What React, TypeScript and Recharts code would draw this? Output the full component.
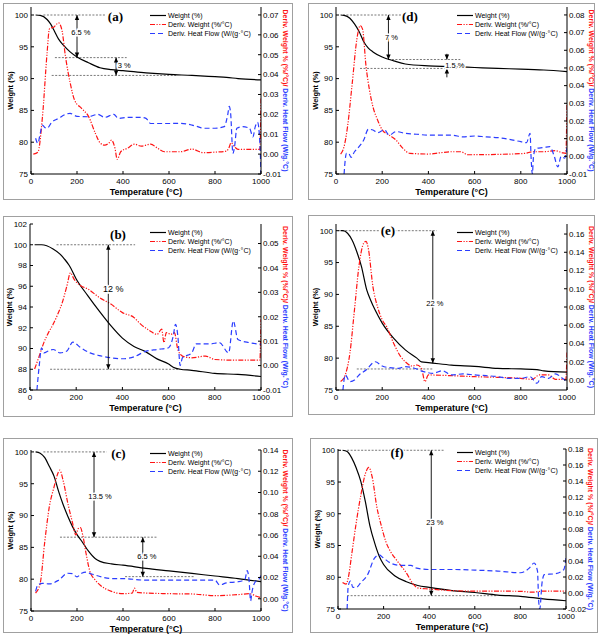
import React from "react";
import {
  LineChart,
  Line,
  XAxis,
  YAxis,
  Legend,
  ReferenceLine,
  ReferenceDot,
} from "recharts";

// values: temperature (°C) / weight (%) / deriv weight (%/°C) / heat flow (W/g°C)
const tempTicks = [0, 200, 400, 600, 800, 1000];

// (a)
const aWtT = [20, 40, 70, 85, 100, 120, 140, 170, 200, 250, 300, 350, 400, 500, 600, 700, 800, 850, 900, 1000];
const aWt = [100, 99.95, 99.3, 98.6, 97.6, 96.2, 95.3, 94.2, 93.4, 92.5, 91.7, 91.4, 91.25, 90.9, 90.65, 90.5, 90.3, 90.2, 90.0, 89.8];
const aDtgT = [10, 30, 50, 70, 80, 100, 120, 135, 150, 170, 190, 220, 250, 280, 300, 320, 340, 350, 365, 375, 390, 420, 450, 480, 520, 550, 580, 650, 700, 750, 800, 850, 860, 870, 885, 900, 995, 1000];
const aDtg = [0.0, 0.001, 0.019, 0.051, 0.063, 0.064, 0.066, 0.062, 0.049, 0.036, 0.027, 0.023, 0.019, 0.0104, 0.0057, 0.0045, 0.0057, 0.007, 0.003, -0.0027, 0.0012, 0.003, 0.005, 0.004, 0.005, 0.003, 0.0012, 0.0012, 0.0025, 0.0007, 0.001, 0.0015, 0.003, 0.0057, 0.0037, 0.0024, 0.0024, 0.028];
const aHfT = [20, 30, 40, 50, 60, 70, 90, 120, 150, 170, 200, 250, 290, 320, 360, 380, 420, 480, 500, 520, 600, 650, 700, 720, 750, 800, 840, 855, 862, 868, 878, 885, 895, 920, 950, 965, 975, 985, 995, 1000];
const aHf = [0.008, 0.0054, 0.0104, 0.0146, 0.0134, 0.013, 0.016, 0.018, 0.02, 0.0205, 0.019, 0.0188, 0.02, 0.0185, 0.02, 0.018, 0.0185, 0.0185, 0.018, 0.0154, 0.0154, 0.0155, 0.0146, 0.014, 0.013, 0.013, 0.0138, 0.0196, 0.024, 0.0205, 0.0003, 0.0037, 0.013, 0.0138, 0.013, 0.0087, 0.0138, 0.016, 0.006, -0.01];

// (d)
const dWtT = [20, 35, 60, 80, 100, 120, 140, 160, 200, 250, 300, 400, 500, 600, 700, 800, 900, 1000];
const dWt = [100, 99.95, 99.5, 98.6, 97.4, 95.8, 94.8, 94.2, 93.4, 92.8, 92.3, 92.0, 91.9, 91.75, 91.6, 91.5, 91.35, 91.1];
const dDtgT = [20, 35, 50, 70, 90, 105, 115, 130, 145, 160, 180, 200, 230, 260, 290, 320, 400, 450, 500, 540, 570, 700, 820, 850, 900, 950, 980, 995, 1000];
const dDtg = [0.0013, 0.0055, 0.0168, 0.041, 0.066, 0.074, 0.072, 0.051, 0.0375, 0.028, 0.0206, 0.015, 0.012, 0.0092, 0.0045, 0.0017, 0.0013, 0.002, 0.0026, 0.0026, 0.0009, 0.0011, 0.0017, 0.0026, 0.0026, 0.0032, 0.002, 0.0017, 0.03];
const dHfT = [35, 40, 45, 55, 65, 80, 100, 120, 140, 160, 180, 210, 230, 260, 300, 350, 400, 500, 550, 600, 650, 700, 750, 800, 825, 840, 845, 850, 855, 865, 900, 925, 945, 960, 975, 990, 1000];
const dHf = [-0.01, -0.002, 0.0017, 0.0017, -0.0006, 0.0026, 0.0055, 0.0092, 0.0153, 0.0149, 0.0134, 0.015, 0.012, 0.014, 0.013, 0.0125, 0.012, 0.012, 0.011, 0.0115, 0.011, 0.0106, 0.0096, 0.0083, 0.0077, 0.013, -0.002, -0.01, 0.0, 0.0045, 0.005, 0.0055, 0.0, -0.006, 0.0, -0.001, 0.005];

// (b)
const bWtT = [20, 50, 100, 130, 150, 170, 200, 250, 300, 350, 400, 450, 500, 550, 600, 620, 650, 700, 800, 900, 1000];
const bWt = [100, 100, 99.6, 99.1, 98.6, 98.0, 96.7, 95.1, 93.6, 92.2, 91.0, 90.2, 89.7, 89.0, 88.5, 88.2, 88.0, 87.9, 87.6, 87.5, 87.3];
const bDtgT = [20, 40, 60, 80, 100, 120, 140, 160, 175, 190, 220, 250, 300, 350, 400, 450, 480, 520, 550, 570, 580, 590, 610, 625, 640, 660, 700, 760, 800, 900, 995, 1000];
const bDtg = [-0.0014, 0.0039, 0.0094, 0.0135, 0.0169, 0.021, 0.0259, 0.0327, 0.038, 0.0355, 0.0327, 0.0314, 0.0279, 0.0252, 0.0217, 0.0197, 0.0169, 0.0142, 0.0128, 0.0149, 0.0094, 0.0135, 0.0128, 0.0135, 0.0066, 0.0039, 0.0032, 0.0039, 0.0025, 0.0022, 0.0022, 0.019];
const bHfT = [30, 40, 50, 60, 80, 100, 130, 160, 185, 220, 260, 300, 350, 400, 450, 500, 550, 600, 620, 630, 640, 650, 660, 700, 720, 780, 820, 860, 880, 900, 950, 1000];
const bHf = [-0.01, 0.0, 0.0073, 0.0052, 0.006, 0.0066, 0.0052, 0.006, 0.0096, 0.0073, 0.0052, 0.0041, 0.0032, 0.0028, 0.0036, 0.0058, 0.0066, 0.0073, 0.0121, 0.0169, 0.0121, 0.0, 0.0032, 0.0052, 0.0089, 0.0089, 0.0094, 0.0052, 0.0183, 0.0107, 0.0094, 0.0087];

// (e)
const eWtT = [20, 30, 50, 70, 90, 110, 133, 150, 170, 200, 250, 300, 350, 370, 400, 500, 600, 700, 800, 870, 900, 1000];
const eWt = [100, 100, 99.6, 98.5, 96.7, 94.4, 90.7, 89.1, 87.5, 85.5, 83.1, 81.3, 80.0, 79.4, 79.3, 78.9, 78.7, 78.4, 78.3, 78.2, 78.0, 77.8];
const eDtgT = [20, 40, 60, 80, 100, 120, 130, 140, 160, 180, 200, 220, 250, 280, 300, 330, 350, 370, 385, 400, 500, 600, 700, 800, 850, 880, 920, 950, 995, 1000];
const eDtg = [-0.0018, 0.0055, 0.029, 0.077, 0.126, 0.15, 0.152, 0.144, 0.102, 0.08, 0.066, 0.058, 0.04, 0.0256, 0.02, 0.0153, 0.0164, 0.0128, -0.0018, 0.0055, 0.0047, 0.0036, 0.0029, 0.0018, 0.0007, 0.0055, 0.0055, 0.0007, 0.0007, 0.03];
const eHfT = [30, 40, 60, 80, 100, 130, 170, 200, 230, 270, 300, 340, 380, 420, 460, 500, 550, 600, 650, 700, 750, 800, 840, 870, 890, 920, 950, 980, 1000];
const eHf = [-0.011, 0.0055, -0.0018, 0.0, 0.0055, 0.011, 0.02, 0.0153, 0.0135, 0.0128, 0.0146, 0.0128, 0.0091, 0.0073, 0.0102, 0.0055, 0.0066, 0.0055, 0.0047, 0.0036, 0.0018, 0.0018, 0.0036, -0.0036, 0.0036, 0.0018, 0.0066, 0.0018, -0.002];

// (c)
const cWtT = [20, 40, 60, 80, 100, 120, 140, 160, 180, 200, 220, 250, 280, 300, 350, 400, 500, 600, 700, 800, 900, 1000];
const cWt = [100, 99.8, 99.1, 97.7, 96.2, 93.8, 91.7, 89.9, 88.3, 87.0, 86.0, 84.4, 83.2, 82.8, 82.4, 82.2, 81.7, 81.3, 80.9, 80.5, 80.1, 79.6];
const cDtgT = [20, 40, 60, 80, 100, 115, 125, 140, 160, 180, 195, 205, 215, 225, 240, 255, 280, 300, 350, 400, 440, 450, 460, 500, 600, 700, 800, 900, 950, 980, 1000];
const cDtg = [0.0054, 0.0145, 0.054, 0.087, 0.105, 0.117, 0.121, 0.111, 0.09, 0.072, 0.06, 0.066, 0.067, 0.06, 0.042, 0.0266, 0.0175, 0.013, 0.007, 0.0048, 0.0054, 0.01, 0.006, 0.0054, 0.0048, 0.0045, 0.003, 0.0039, 0.0048, 0.0024, 0.001];
const cHfT = [20, 30, 50, 80, 120, 160, 180, 200, 220, 240, 260, 300, 350, 400, 500, 600, 700, 800, 820, 850, 900, 930, 940, 948, 955, 960, 975, 990, 1000];
const cHf = [0.007, 0.013, 0.0145, 0.014, 0.0175, 0.024, 0.0236, 0.0206, 0.024, 0.025, 0.0236, 0.021, 0.019, 0.019, 0.0175, 0.0175, 0.0175, 0.0175, 0.013, 0.015, 0.016, 0.018, 0.0266, 0.0175, -0.002, 0.0054, 0.016, 0.018, 0.022];

// (f)
const fWtT = [20, 40, 60, 80, 100, 120, 140, 160, 180, 200, 250, 300, 350, 400, 500, 600, 700, 800, 900, 1000];
const fWt = [100, 99.8, 98.8, 97.2, 95.1, 91.9, 88.1, 85.5, 83.4, 82.0, 80.2, 79.3, 78.7, 78.4, 77.9, 77.6, 77.2, 77.0, 76.6, 76.3];
const fDtgT = [20, 35, 45, 60, 80, 100, 120, 135, 150, 170, 190, 210, 230, 260, 300, 330, 350, 400, 500, 600, 700, 800, 850, 900, 1000];
const fDtg = [0.013, 0.011, 0.019, 0.048, 0.088, 0.122, 0.149, 0.157, 0.145, 0.108, 0.084, 0.064, 0.052, 0.04, 0.025, 0.011, 0.0063, 0.005, 0.003, 0.0023, 0.0023, 0.0021, 0.001, 0.0023, 0.0023];
const fHfT = [40, 45, 55, 65, 80, 100, 130, 160, 180, 200, 230, 270, 320, 340, 400, 500, 600, 700, 800, 840, 860, 875, 880, 885, 895, 905, 950, 990, 1000];
const fHf = [-0.02, 0.009, 0.015, 0.007, 0.007, 0.013, 0.023, 0.0436, 0.0476, 0.0436, 0.0375, 0.0346, 0.0346, 0.0314, 0.0294, 0.0294, 0.0286, 0.0274, 0.0253, 0.0314, 0.0375, 0.0274, -0.009, -0.02, 0.013, 0.023, 0.024, 0.029, 0.0436];

// annotations: dotted guides [from T, to T, weight], arrows [T, from wt, to wt, both?], notes [T, wt, text]
const aGuides = [[54, 326, 100], [104, 416, 93.3], [90, 633, 90.5]];
const aArrows = [[200, 100, 93.3, 1], [370, 93.3, 90.5, 1]];
const aNotes: [number, number, string][] = [[217, 97.2, "6.5 %"], [405, 92.1, "3 %"]];

const dGuides = [[30, 285, 100], [227, 538, 93.0], [104, 538, 91.6]];
const dArrows = [[227, 100, 93.0, 1], [480, 93.9, 93.0, 0], [480, 90.2, 91.6, 0]];
const dNotes: [number, number, string][] = [[240, 96.4, "7 %"], [514, 92.1, "1.5 %"]];

const bGuides = [[115, 455, 100], [87, 650, 88.0]];
const bArrows = [[339, 100, 88.0, 1]];
const bNotes: [number, number, string][] = [[360, 95.7, "12 %"]];

const eGuides = [[10, 436, 100], [90, 422, 78.3]];
const eArrows = [[419, 100, 79.2, 1]];
const eNotes: [number, number, string][] = [[428, 88.5, "22 %"]];

const cGuides = [[54, 329, 100], [126, 546, 86.6], [409, 713, 80.4]];
const cArrows = [[274, 100, 86.6, 1], [486, 86.6, 80.4, 1]];
const cNotes: [number, number, string][] = [[300, 93.0, "13.5 %"], [504, 83.5, "6.5 %"]];

const fGuides = [[40, 463, 100], [40, 697, 77.1]];
const fArrows = [[409, 100, 77.1, 1]];
const fNotes: [number, number, string][] = [[425, 88.7, "23 %"]];

const RED = "#ff1414";
const BLUE = "#2b3dff";
const FONT = "'Liberation Sans', Arial, sans-serif";
const SERIF = "'Liberation Serif', 'Times New Roman', serif";

const zip = (ts: number[], vs: number[]) => ts.map((t, i) => ({ t, v: vs[i] }));

const SERIES = [
  { name: "Weight (%)", color: "#000", dash: undefined as string | undefined },
  { name: "Deriv. Weight (%/°C)", color: RED, dash: "5 1.5 1.2 1.5 1.2 1.5" },
  { name: "Deriv. Heat Flow (W/(g·°C)", color: BLUE, dash: "5 3" },
];

const LegendBox = () => (
  <div style={{ fontFamily: FONT, fontSize: 7, color: "#000" }}>
    {SERIES.map((s) => (
      <div key={s.name} style={{ display: "flex", alignItems: "center", height: 9, whiteSpace: "nowrap" }}>
        <svg width={17} height={9}>
          <line x1={0} x2={16} y1={4.5} y2={4.5} stroke={s.color} strokeWidth={1.2} strokeDasharray={s.dash} />
        </svg>
        <span style={{ marginLeft: 1 }}>{s.name}</span>
      </div>
    ))}
  </div>
);

const LeftTitle = (p: any) => {
  const vb = p.viewBox;
  const x = vb.x + vb.width - 21;
  const y = vb.y + vb.height / 2;
  return (
    <text transform={`translate(${x},${y}) rotate(-90)`} textAnchor="middle" dominantBaseline="central" fontSize={7.5} fontWeight="bold" fontFamily={FONT} fill="#000">
      Weight (%)
    </text>
  );
};

const RightTitle = (p: any) => {
  const vb = p.viewBox;
  const x = vb.x + 25;
  const y = vb.y + vb.height / 2;
  return (
    <text transform={`translate(${x},${y}) rotate(90)`} textAnchor="middle" dominantBaseline="central" fontSize={7} fontWeight="bold" fontFamily={FONT}>
      <tspan fill={RED}>Deriv. Weight % (%/°C)/</tspan>
      <tspan fill={BLUE}> Deriv. Heat Flow (W/g.°C)</tspan>
    </text>
  );
};

const BottomTitle = (p: any) => {
  const vb = p.viewBox;
  return (
    <text x={vb.x + vb.width / 2} y={vb.y + 18} textAnchor="middle" dominantBaseline="central" fontSize={9} fontWeight="bold" fontFamily={FONT} fill="#000">
      Temperature (°C)
    </text>
  );
};

const headShape = (up: boolean) => (p: any) => (
  <path d={up ? `M${p.cx},${p.cy} l-2.2,5 l4.4,0 z` : `M${p.cx},${p.cy} l-2.2,-5 l4.4,0 z`} fill="#000" />
);

const noteShape = (text: string, size: number, serif = false) => (p: any) => (
  <text
    x={p.cx}
    y={p.cy}
    textAnchor="middle"
    dominantBaseline="central"
    fontSize={size}
    fontFamily={serif ? SERIF : FONT}
    fontWeight={serif ? "bold" : "normal"}
    fill="#000"
    stroke="#fff"
    strokeWidth={3}
    paintOrder="stroke"
  >
    {text}
  </text>
);

const tickStyle = { fontSize: 8, fill: "#000", fontFamily: FONT };
const axisStyle = { stroke: "#000", strokeWidth: 1 };

function Panel(props: any) {
  const { pos, size, top, bottom, yl, yr, box, wtDomain, wtTicks, dDomain, dTicks, weight, dtg, heat, guides, arrows, notes, letter, noteSize, legendPos } = props;
  return (
    <>
      <div style={{ position: "absolute", left: box[0], top: box[1], width: box[2] - box[0], height: box[3] - box[1], border: "1px solid #a0a0a0", boxSizing: "border-box" }} />
      <div style={{ position: "absolute", left: pos[0], top: pos[1] }}>
        <LineChart width={size[0]} height={size[1]} margin={{ top, right: 0, bottom, left: 0 }} style={{ fontFamily: FONT }}>
          <XAxis dataKey="t" type="number" domain={[0, 1000]} ticks={tempTicks} interval={0} allowDataOverflow height={26} tickSize={-3} tickMargin={7} tick={tickStyle} axisLine={axisStyle} tickLine={axisStyle} label={BottomTitle} />
          <XAxis xAxisId="top" orientation="top" dataKey="t" type="number" domain={[0, 1000]} allowDataOverflow height={0} tick={false} tickLine={false} axisLine={axisStyle} />
          <YAxis yAxisId="wt" domain={wtDomain} ticks={wtTicks} interval={0} allowDataOverflow width={yl} tickSize={-3} tickMargin={6} tick={tickStyle} axisLine={axisStyle} tickLine={axisStyle} label={LeftTitle} />
          <YAxis yAxisId="d" orientation="right" domain={dDomain} ticks={dTicks} interval={0} allowDataOverflow width={yr} tickSize={-3} tickMargin={5} tick={tickStyle} axisLine={axisStyle} tickLine={axisStyle} tickFormatter={(v: number) => v.toFixed(2)} label={RightTitle} />
          <Legend layout="vertical" align="center" verticalAlign="middle" wrapperStyle={{ left: legendPos[0], top: legendPos[1] }} content={LegendBox} />
          {guides.map((g: number[], i: number) => (
            <ReferenceLine key={`g${i}`} yAxisId="wt" segment={[{ x: g[0], y: g[2] }, { x: g[1], y: g[2] }]} stroke="#555" strokeWidth={0.8} strokeDasharray="2 1.5" />
          ))}
          <Line yAxisId="wt" data={weight} dataKey="v" name={SERIES[0].name} type="monotone" stroke="#000" strokeWidth={1.2} dot={false} isAnimationActive={false} />
          <Line yAxisId="d" data={dtg} dataKey="v" name={SERIES[1].name} type="monotone" stroke={RED} strokeWidth={1.2} strokeDasharray={SERIES[1].dash} dot={false} isAnimationActive={false} />
          <Line yAxisId="d" data={heat} dataKey="v" name={SERIES[2].name} type="monotone" stroke={BLUE} strokeWidth={1.2} strokeDasharray={SERIES[2].dash} dot={false} isAnimationActive={false} />
          {arrows.map((a: number[], i: number) => (
            <ReferenceLine key={`a${i}`} yAxisId="wt" segment={[{ x: a[0], y: a[1] }, { x: a[0], y: a[2] }]} stroke="#000" strokeWidth={0.9} />
          ))}
          {arrows.map((a: number[], i: number) => (
            <ReferenceDot key={`h${i}`} yAxisId="wt" x={a[0]} y={a[2]} r={0} shape={headShape(a[2] > a[1])} />
          ))}
          {arrows.filter((a: number[]) => a[3] === 1).map((a: number[], i: number) => (
            <ReferenceDot key={`k${i}`} yAxisId="wt" x={a[0]} y={a[1]} r={0} shape={headShape(a[1] > a[2])} />
          ))}
          {notes.map((n: [number, number, string], i: number) => (
            <ReferenceDot key={`n${i}`} yAxisId="wt" x={n[0]} y={n[1]} r={0} shape={noteShape(n[2], noteSize)} />
          ))}
          <ReferenceDot yAxisId="wt" x={letter[0]} y={letter[1]} r={0} shape={noteShape(letter[2], 13, true)} />
        </LineChart>
      </div>
    </>
  );
}

const wt75 = [75, 80, 85, 90, 95, 100];

export default function App() {
  return (
    <div style={{ position: "absolute", left: 0, top: 0, width: 600, height: 638, background: "#fff" }}>
      <Panel
        pos={[0, 0]} size={[300, 210]} top={7} bottom={10} yl={31} yr={39} box={[3, 3, 293, 200]}
        wtDomain={[75, 101.26]} wtTicks={wt75}
        dDomain={[-0.01, 0.074]} dTicks={[-0.01, 0, 0.01, 0.02, 0.03, 0.04, 0.05, 0.06, 0.07]}
        weight={zip(aWtT, aWt)} dtg={zip(aDtgT, aDtg)} heat={zip(aHfT, aHf)}
        guides={aGuides} arrows={aArrows} notes={aNotes} noteSize={7.5}
        letter={[367, 99.7, "(a)"]} legendPos={[150, 11]}
      />
      <Panel
        pos={[300, 0]} size={[300, 210]} top={7} bottom={10} yl={36} yr={33} box={[308, 3, 595, 200]}
        wtDomain={[75, 101.26]} wtTicks={wt75}
        dDomain={[-0.01, 0.0845]} dTicks={[-0.01, 0, 0.01, 0.02, 0.03, 0.04, 0.05, 0.06, 0.07, 0.08]}
        weight={zip(dWtT, dWt)} dtg={zip(dDtgT, dDtg)} heat={zip(dHfT, dHf)}
        guides={dGuides} arrows={dArrows} notes={dNotes} noteSize={7.5}
        letter={[320, 99.7, "(d)"]} legendPos={[157, 11]}
      />
      <Panel
        pos={[0, 210]} size={[300, 210]} top={14} bottom={4} yl={30} yr={39} box={[3, 216, 293, 417]}
        wtDomain={[86, 102]} wtTicks={[86, 88, 90, 92, 94, 96, 98, 100, 102]}
        dDomain={[-0.01, 0.058]} dTicks={[-0.01, 0, 0.01, 0.02, 0.03, 0.04, 0.05]}
        weight={zip(bWtT, bWt)} dtg={zip(bDtgT, bDtg)} heat={zip(bHfT, bHf)}
        guides={bGuides} arrows={bArrows} notes={bNotes} noteSize={9}
        letter={[381, 101.0, "(b)"]} legendPos={[150, 18]}
      />
      <Panel
        pos={[300, 210]} size={[300, 210]} top={14} bottom={4} yl={36} yr={33} box={[308, 215, 595, 415]}
        wtDomain={[75, 101.05]} wtTicks={wt75}
        dDomain={[-0.011, 0.171]} dTicks={[0, 0.02, 0.04, 0.06, 0.08, 0.1, 0.12, 0.14, 0.16]}
        weight={zip(eWtT, eWt)} dtg={zip(eDtgT, eDtg)} heat={zip(eHfT, eHf)}
        guides={eGuides} arrows={eArrows} notes={eNotes} noteSize={7.5}
        letter={[225, 100, "(e)"]} legendPos={[157, 18]}
      />
      <Panel
        pos={[0, 420]} size={[300, 218]} top={30} bottom={1} yl={31} yr={39} box={[3, 438, 293, 633]}
        wtDomain={[75, 100.3]} wtTicks={wt75}
        dDomain={[-0.0115, 0.14]} dTicks={[0, 0.02, 0.04, 0.06, 0.08, 0.1, 0.12, 0.14]}
        weight={zip(cWtT, cWt)} dtg={zip(cDtgT, cDtg)} heat={zip(cHfT, cHf)}
        guides={cGuides} arrows={cArrows} notes={cNotes} noteSize={7.5}
        letter={[380, 99.8, "(c)"]} legendPos={[150, 29]}
      />
      <Panel
        pos={[300, 420]} size={[300, 218]} top={29} bottom={3} yl={38} yr={34} box={[310, 438, 598, 633]}
        wtDomain={[75, 100.2]} wtTicks={wt75}
        dDomain={[-0.02, 0.18]} dTicks={[-0.02, 0, 0.02, 0.04, 0.06, 0.08, 0.1, 0.12, 0.14, 0.16, 0.18]}
        weight={zip(fWtT, fWt)} dtg={zip(fDtgT, fDtg)} heat={zip(fHfT, fHf)}
        guides={fGuides} arrows={fArrows} notes={fNotes} noteSize={7.5}
        letter={[259, 99.7, "(f)"]} legendPos={[157, 28]}
      />
    </div>
  );
}
